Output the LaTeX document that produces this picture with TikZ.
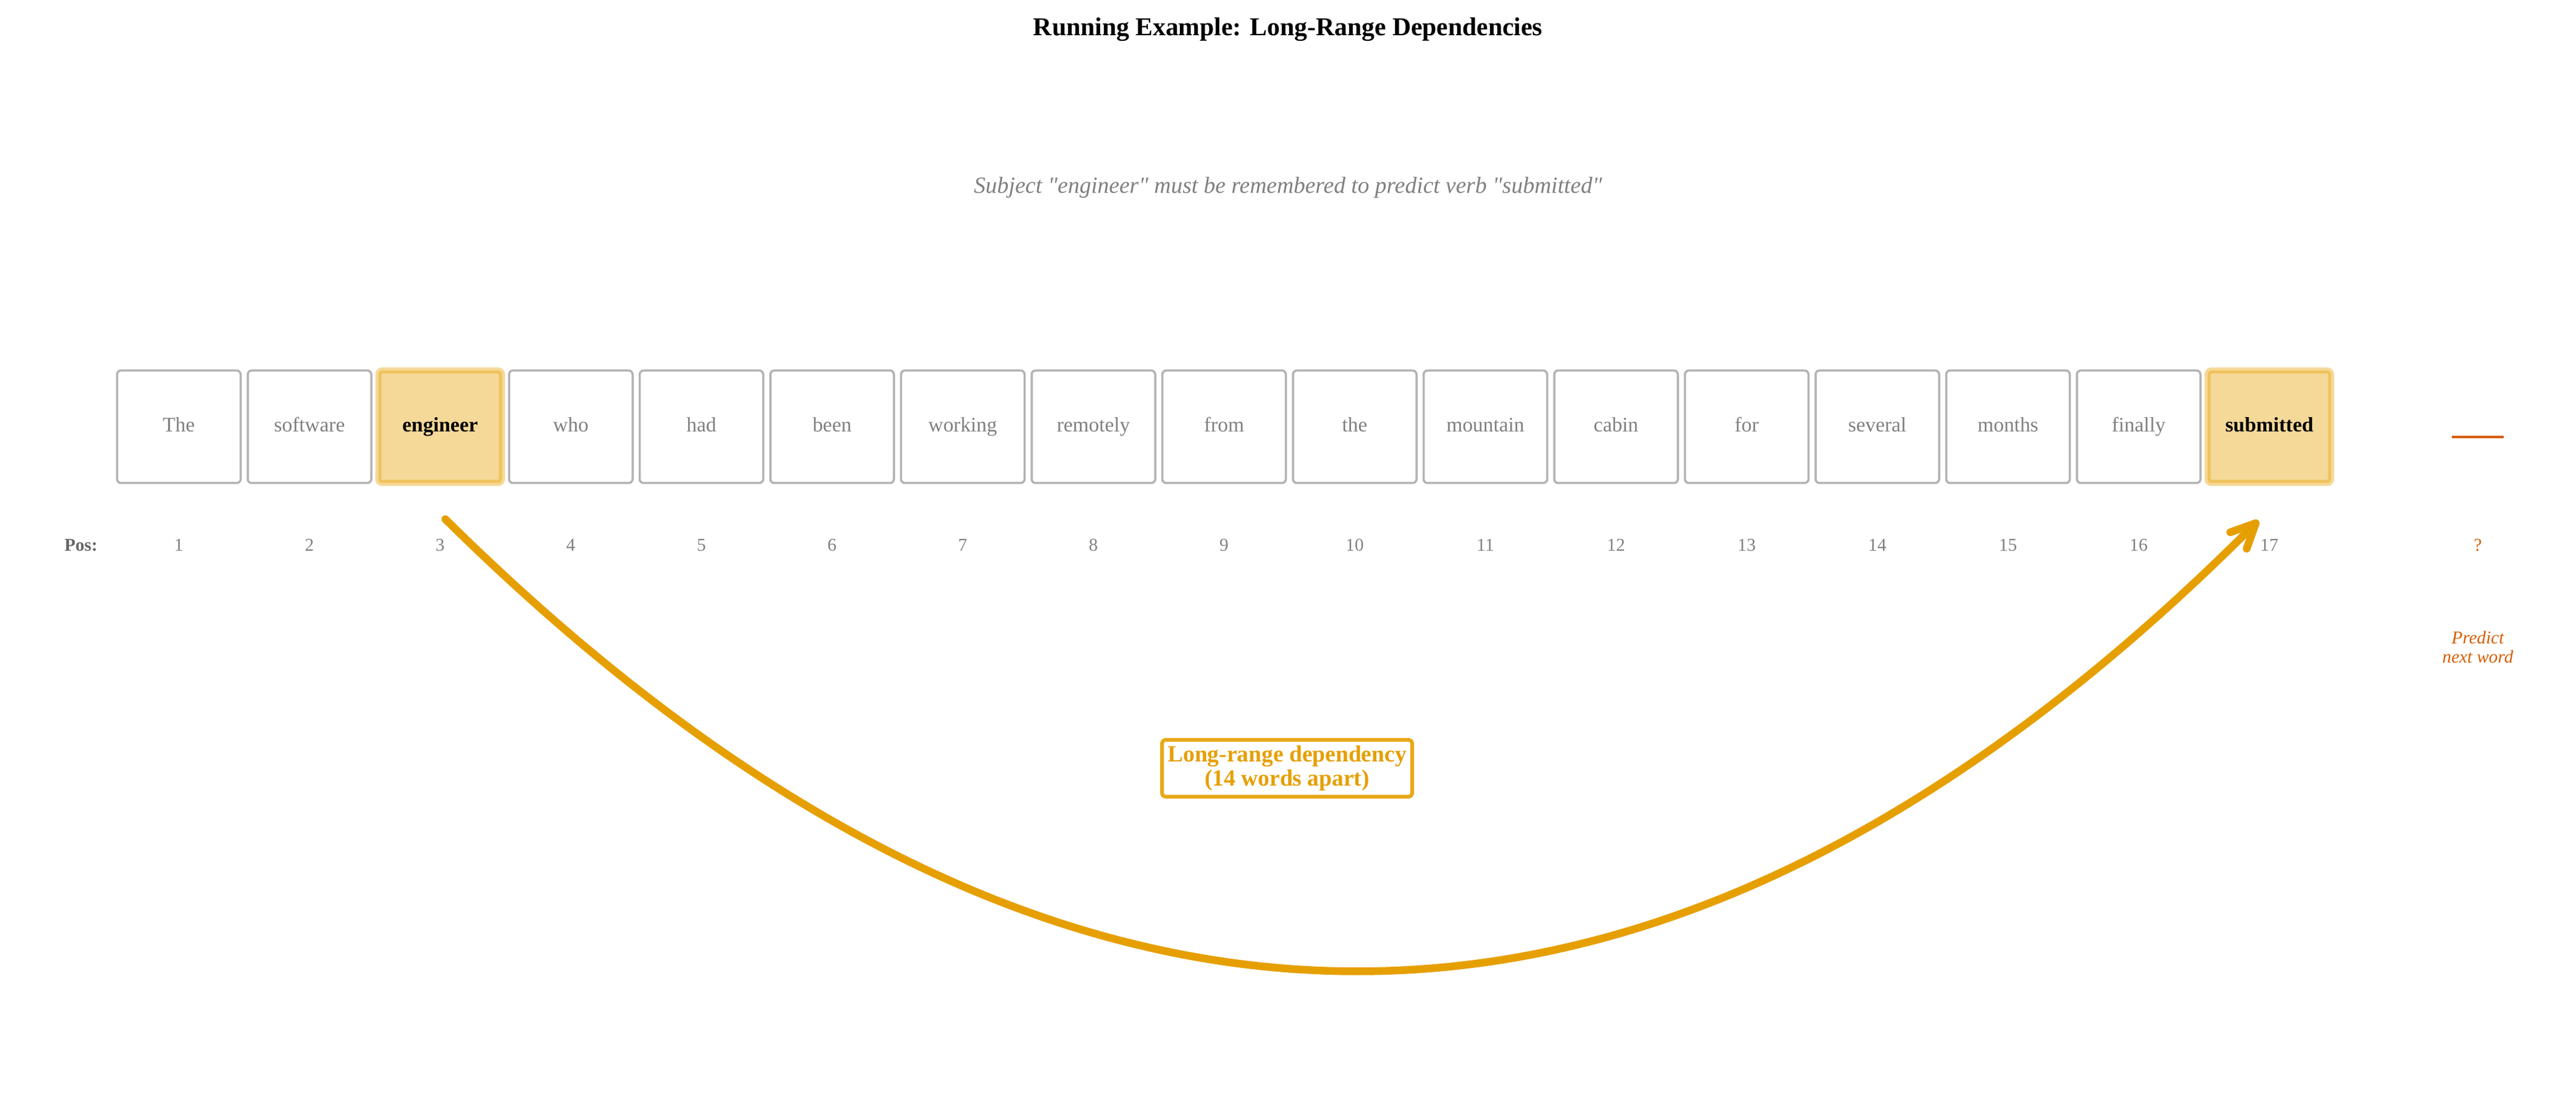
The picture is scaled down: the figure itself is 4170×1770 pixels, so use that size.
\documentclass[tikz,border=0pt]{standalone}
\usepackage{fontspec}
\setmainfont{Liberation Serif}
\usetikzlibrary{arrows.meta}
\definecolor{boxgray}{HTML}{B3B3B3}
\definecolor{txtgray}{HTML}{808080}
\definecolor{posgray}{HTML}{666666}
\definecolor{okorange}{HTML}{E69F00}
\definecolor{vermil}{HTML}{D55E00}
\begin{document}
\begin{tikzpicture}[x=0.24pt,y=-0.24pt,
  wbox/.style={draw=boxgray, line width=0.84pt, fill=white, rounded corners=1.5pt,
    minimum width=48pt, minimum height=43.68pt, inner sep=0pt,
    text height=5.4pt, text depth=1.6pt, text=txtgray,
    font=\fontsize{8}{9.6}\selectfont},
  hbox/.style={wbox, draw=okorange, fill=okorange, draw opacity=0.4, fill opacity=0.4,
    text opacity=1, line width=2.4pt, text=black,
    font=\fontsize{8}{9.6}\selectfont\bfseries},
  numlbl/.style={anchor=base, inner sep=0pt, text=txtgray, font=\fontsize{7}{8.4}\selectfont},
  poslbl/.style={anchor=base, inner sep=0pt, text=posgray, font=\fontsize{7}{8.4}\selectfont\bfseries},
  titlelbl/.style={anchor=base, inner sep=0pt, font=\fontsize{10}{12}\selectfont\bfseries},
  sublbl/.style={anchor=base, inner sep=0pt, text=txtgray, font=\fontsize{9}{10.8}\selectfont\itshape},
  deplabel/.style={draw=okorange, draw opacity=0.9, line width=1.44pt, rounded corners=1.5pt, fill=white,
    text=okorange, font=\fontsize{9}{9.2}\selectfont\bfseries, align=center,
    minimum width=97.2pt, minimum height=22.08pt, inner sep=1pt},
  predlbl/.style={text=vermil, font=\fontsize{7}{7.44}\selectfont\itshape, align=center, inner sep=0pt},
  qlbl/.style={anchor=base, inner sep=0pt, text=vermil, font=\fontsize{7}{8.4}\selectfont},
  blankline/.style={draw=vermil, line width=0.96pt},
  deparrow/.style={draw=okorange, line width=3pt, line cap=round,
    -{Straight Barb[length=9.5pt,width=9pt,round]}}
]
\useasboundingbox (0,0) rectangle (4170,1770);

% title and subtitle
\node[titlelbl] (title) at (2085,58) {Running Example: Long-Range Dependencies};
\node[sublbl] (subtitle) at (2085,313) {Subject \textquotedbl engineer\textquotedbl{} must be remembered to predict verb \textquotedbl submitted\textquotedbl};

% word boxes
\node[wbox] (w1)  at (289.5,690.5)  {The};
\node[wbox] (w2)  at (501,690.5)    {software};
\node[hbox] (w3)  at (712.5,690.5)  {engineer};
\node[wbox] (w4)  at (924,690.5)    {who};
\node[wbox] (w5)  at (1135.5,690.5) {had};
\node[wbox] (w6)  at (1347,690.5)   {been};
\node[wbox] (w7)  at (1558.5,690.5) {working};
\node[wbox] (w8)  at (1770,690.5)   {remotely};
\node[wbox] (w9)  at (1981.5,690.5) {from};
\node[wbox] (w10) at (2193,690.5)   {the};
\node[wbox] (w11) at (2404.5,690.5) {mountain};
\node[wbox] (w12) at (2616,690.5)   {cabin};
\node[wbox] (w13) at (2827.5,690.5) {for};
\node[wbox] (w14) at (3039,690.5)   {several};
\node[wbox] (w15) at (3250.5,690.5) {months};
\node[wbox] (w16) at (3462,690.5)   {finally};
\node[hbox] (w17) at (3673.5,690.5) {submitted};

% blank for next word
\coordinate (blankL) at (3969,707);
\coordinate (blankR) at (4053,707);
\draw[blankline] (blankL) -- (blankR);

% positions
\node[poslbl] (pos) at (131,891) {Pos:};
\foreach \i in {1,...,17} {
  \node[numlbl] (n\i) at ({289.5+(\i-1)*211.5},891) {\i};
}
\node[qlbl] (nq) at (4011,891) {?};
\node[predlbl] (pred) at (4011,1047.5) {Predict\\next word};

% dependency arrow
\coordinate (depS) at (721,840);
\coordinate (depE) at (3656,842);
\draw[deparrow] (depS) .. controls (1706.7,1813) and (2685,1814) .. (depE);

% label
\node[deplabel] (dep) at (2083.5,1243) {Long-range dependency\\(14 words apart)};
\end{tikzpicture}
\end{document}
